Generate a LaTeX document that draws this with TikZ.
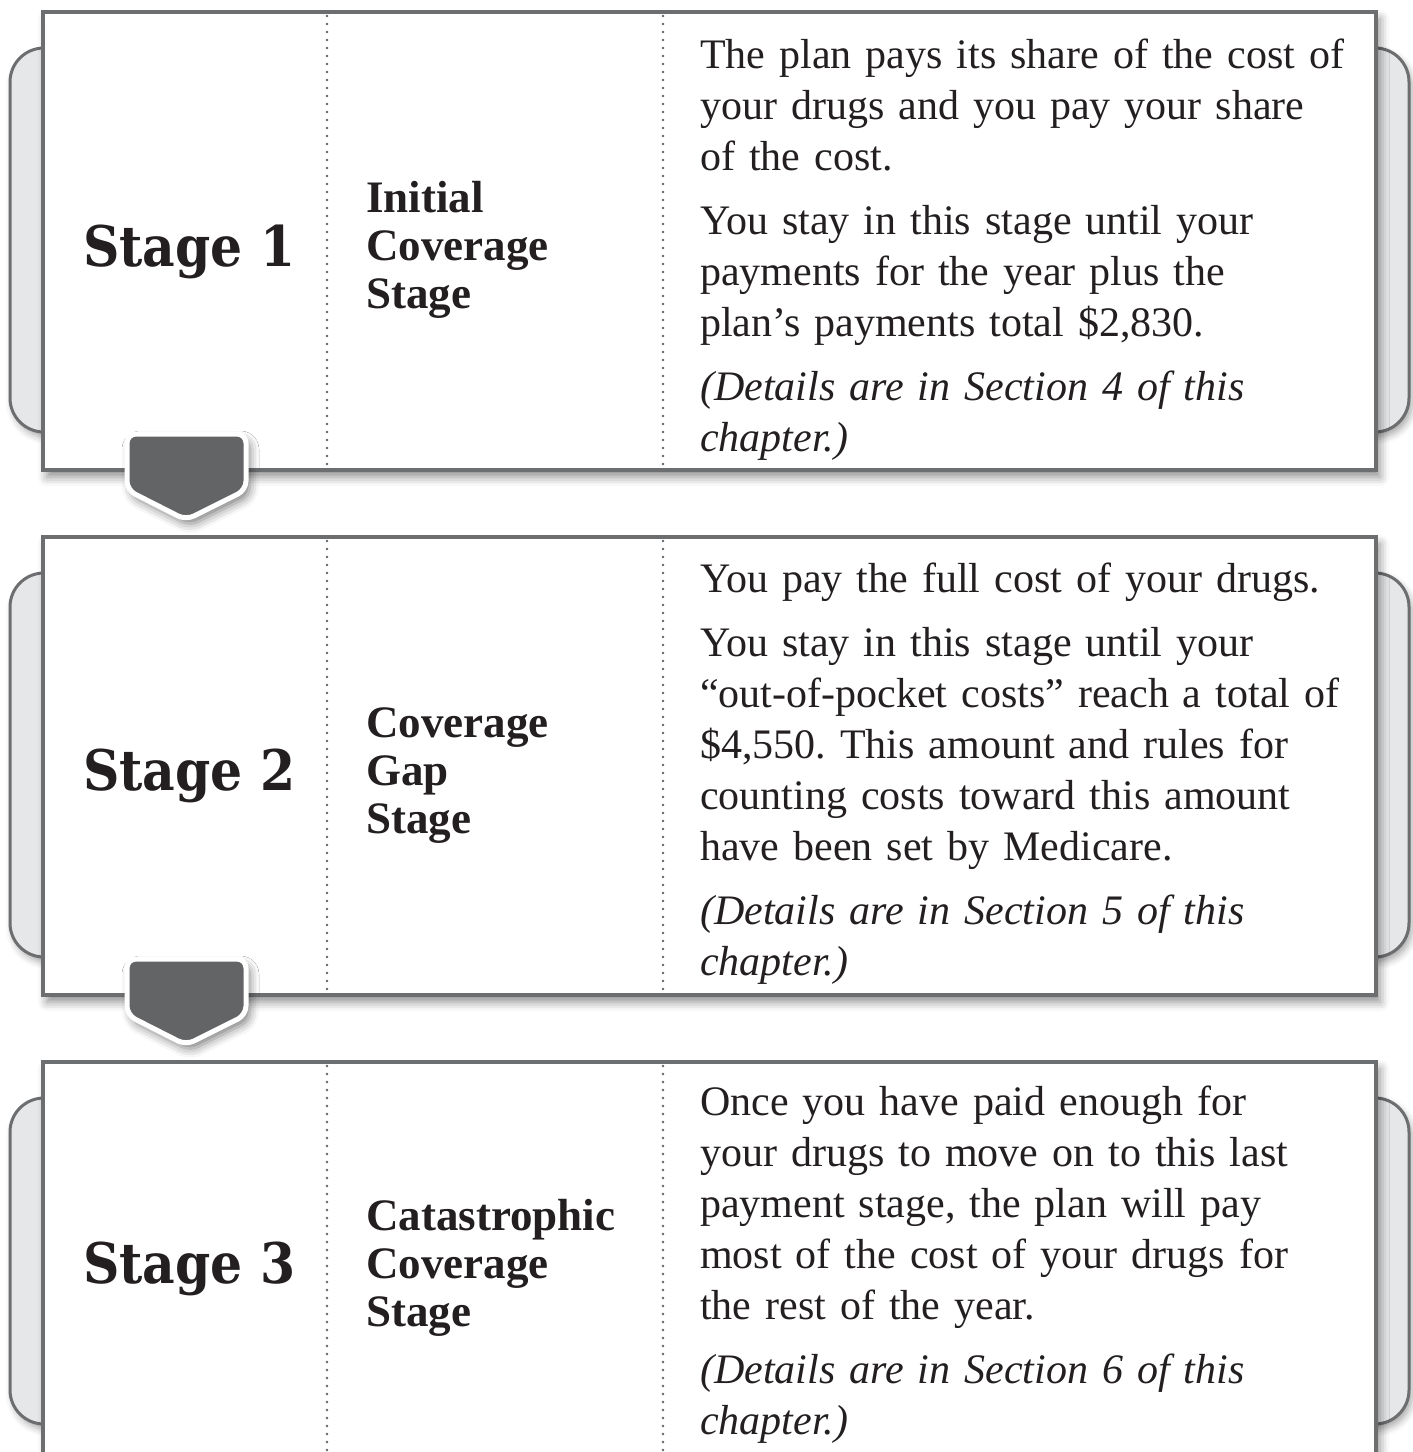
\documentclass[tikz,border=0pt]{standalone}
\usepackage{fontspec}
\setmainfont{Liberation Serif}
\newfontfamily\stagefont{DejaVu Serif Condensed}
\usetikzlibrary{shadows.blur}
\definecolor{edgegray}{RGB}{109,110,112}
\definecolor{tabgray}{RGB}{230,231,232}
\definecolor{arrowgray}{RGB}{99,100,102}
\definecolor{inkblack}{RGB}{35,31,32}
\newcommand{\infobreak}{\par\vspace{13pt}}
\frenchspacing

\begin{document}
\begin{tikzpicture}[
        x=1pt, y=-1pt,
        tabback/.style={draw=edgegray, line width=3pt, fill=tabgray, rounded corners=34pt,
            blur shadow={shadow xshift=3pt, shadow yshift=-5pt, shadow blur radius=7pt, shadow opacity=35}},
        panelbox/.style={draw=edgegray, line width=3.5pt, fill=white,
            blur shadow={shadow xshift=4pt, shadow yshift=-7pt, shadow blur radius=9pt, shadow opacity=45}},
        sep/.style={edgegray!90!black, line width=2.8pt, line cap=round, dash pattern=on 0pt off 8pt},
        arrowbox/.style={draw=white, line width=5pt, fill=arrowgray, rounded corners=9pt, line join=round,
            blur shadow={shadow xshift=4pt, shadow yshift=-6pt, shadow blur radius=9pt, shadow opacity=50}},
        stagelabel/.style={anchor=base west, inner sep=0pt, text=inkblack,
            font=\stagefont\bfseries\fontsize{56}{60}\selectfont},
        phase/.style={anchor=north west, inner sep=0pt, text width=300pt, align=left, text=inkblack,
            font=\bfseries\fontsize{45}{48}\selectfont},
        info/.style={anchor=north west, inner sep=0pt, text width=700pt, align=left, text=inkblack,
            font=\fontsize{42}{51}\selectfont},
    ]
    \useasboundingbox (0,0) rectangle (1413,1452);

    % Back tabs, white panels and dotted column rules
    \foreach \n/\t/\h in {1/12/458, 2/537/458, 3/1062/400} {
        \draw[tabback] (10,\t+36) rectangle (1409,\t+\h-38);
        \draw[panelbox] (43,\t) rectangle (1376,\t+\h);
        \draw[sep] (327,\t+4) -- (327,\t+\h-2);
        \draw[sep] (663,\t+4) -- (663,\t+\h-2);
    }

    % Arrows between the stages
    \foreach \t in {432, 957} {
        \draw[arrowbox] (127,\t+2) -- (246,\t+2) -- (246,\t+58) -- (186,\t+88) -- (127,\t+58) -- cycle;
    }

    % Stage 1
    \node[stagelabel] (stage1) at (83,266) {Stage 1};
    \node[phase] (phase1) at (366,178.4) {\strut Initial\\ Coverage\\ Stage};
    \node[info] (info1) at (700,32.3) {\strut The plan pays its share of the cost of\\
        your drugs and you pay your share\\ of the cost.\infobreak
        You stay in this stage until your\\ payments for the year plus the\\
        plan’s payments total \$2,830.\infobreak
        \textit{(Details are in Section 4 of this\\ chapter.)}};

    % Stage 2
    \node[stagelabel] (stage2) at (83,790) {Stage 2};
    \node[phase] (phase2) at (366,703.4) {\strut Coverage\\ Gap\\ Stage};
    \node[info] (info2) at (700,556.3) {\strut You pay the full cost of your drugs.\infobreak
        You stay in this stage until your\\ “out-of-pocket costs” reach a total of\\
        \$4,550. This amount and rules for\\ counting costs toward this amount\\
        have been set by Medicare.\infobreak
        \textit{(Details are in Section 5 of this\\ chapter.)}};

    % Stage 3
    \node[stagelabel] (stage3) at (83,1283) {Stage 3};
    \node[phase] (phase3) at (366,1196.4) {\strut Catastrophic\\ Coverage\\ Stage};
    \node[info] (info3) at (700,1079.3) {\strut Once you have paid enough for\\
        your drugs to move on to this last\\ payment stage, the plan will pay\\
        most of the cost of your drugs for\\ the rest of the year.\infobreak
        \textit{(Details are in Section 6 of this\\ chapter.)}};
\end{tikzpicture}
\end{document}
